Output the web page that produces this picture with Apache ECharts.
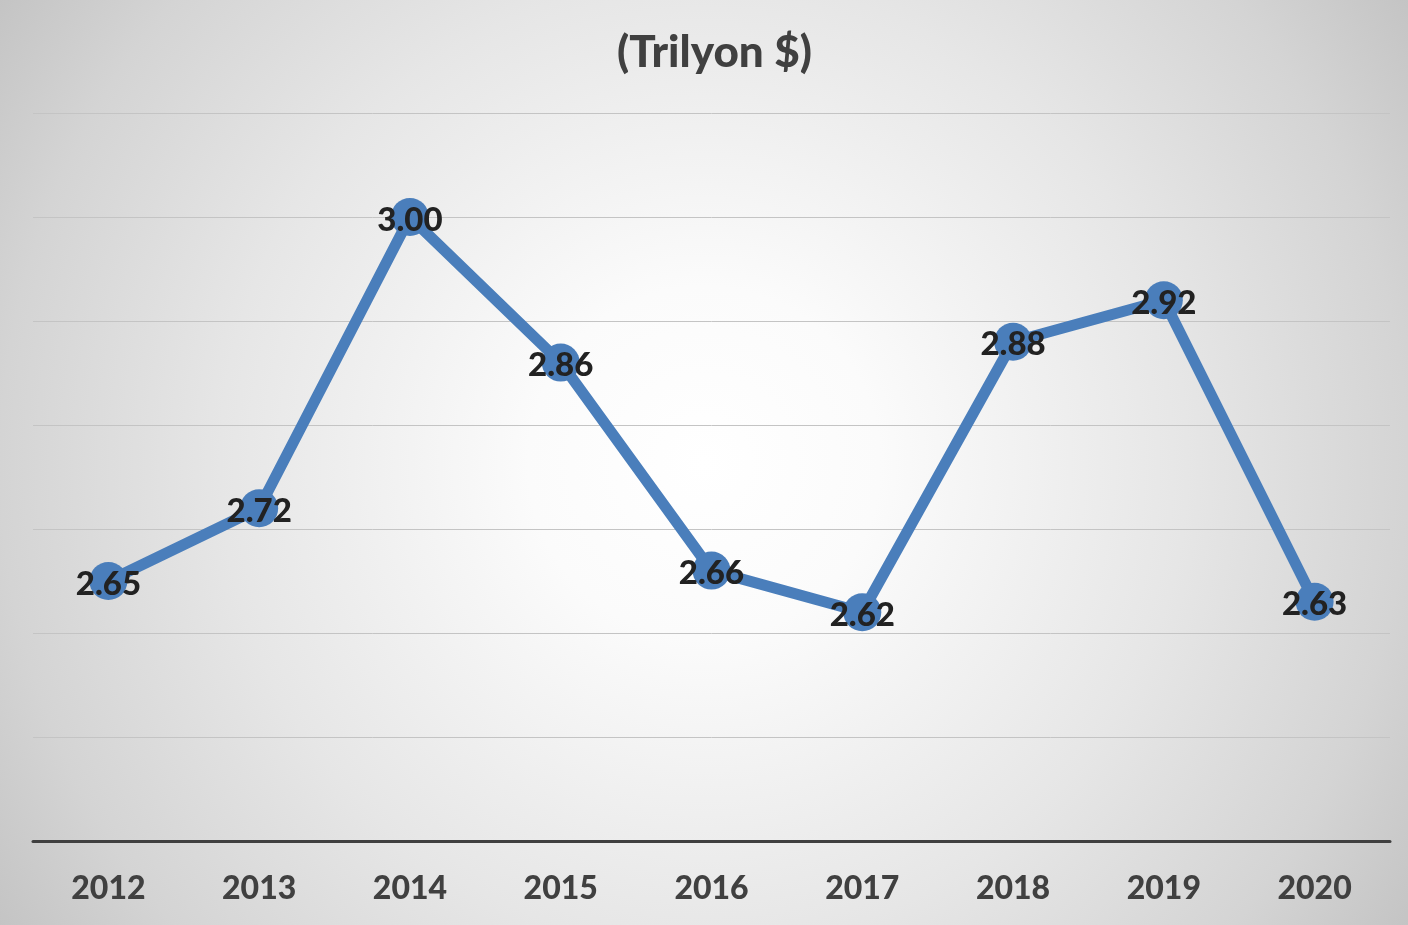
<!DOCTYPE html>
<html>
<head>
<meta charset="utf-8">
<style>
  html, body { margin: 0; padding: 0; }
  #chart { width: 1408px; height: 925px; }
</style>
<script src="https://cdn.jsdelivr.net/npm/echarts@6/dist/echarts.min.js"></script>
</head>
<body>
<div id="chart"></div>
<script>
// 数据
const years = ['2012', '2013', '2014', '2015', '2016', '2017', '2018', '2019', '2020'];
const values = [2.65, 2.72, 3.00, 2.86, 2.66, 2.62, 2.88, 2.92, 2.63];
const titleText = '(Trilyon $)';

const FONT = 'Lato, "Liberation Sans", sans-serif';

const myChart = echarts.init(document.getElementById('chart'));

const option = {
  backgroundColor: new echarts.graphic.RadialGradient(0.5, 0.5, 0.95, [
    { offset: 0, color: '#ffffff' },
    { offset: 0.2, color: '#fbfbfb' },
    { offset: 0.55, color: '#e6e6e6' },
    { offset: 0.8, color: '#d4d4d4' },
    { offset: 1, color: '#c0c0c0' }
  ]),
  title: {
    text: titleText,
    left: 612,
    top: 26,
    textStyle: { fontFamily: FONT, fontSize: 44, fontWeight: 900, color: '#404040' }
  },
  grid: { left: 33, right: 18, top: 113, bottom: 84 },
  xAxis: {
    type: 'category',
    data: years,
    boundaryGap: true,
    axisLine: { lineStyle: { color: '#404040', width: 3 } },
    axisTick: { show: false },
    axisLabel: {
      margin: 32,
      fontFamily: FONT, fontSize: 32, fontWeight: 900, color: '#404040'
    }
  },
  yAxis: {
    type: 'value',
    min: 2.4,
    max: 3.1,
    interval: 0.1,
    axisLine: { show: false },
    axisTick: { show: false },
    axisLabel: { show: false },
    splitLine: { lineStyle: { color: '#c4c4c4', width: 1 } }
  },
  series: [
    {
      type: 'line',
      data: values,
      symbol: 'circle',
      symbolSize: 38,
      lineStyle: { color: '#4a7ebb', width: 11 },
      itemStyle: { color: '#4a7ebb' },
      label: {
        show: true,
        position: 'inside',
        offset: [0, 3],
        formatter: p => p.value.toFixed(2),
        fontFamily: FONT, fontSize: 33, fontWeight: 900, color: '#222222'
      },
      z: 3
    }
  ]
};

myChart.setOption(option);
</script>
</body>
</html>
